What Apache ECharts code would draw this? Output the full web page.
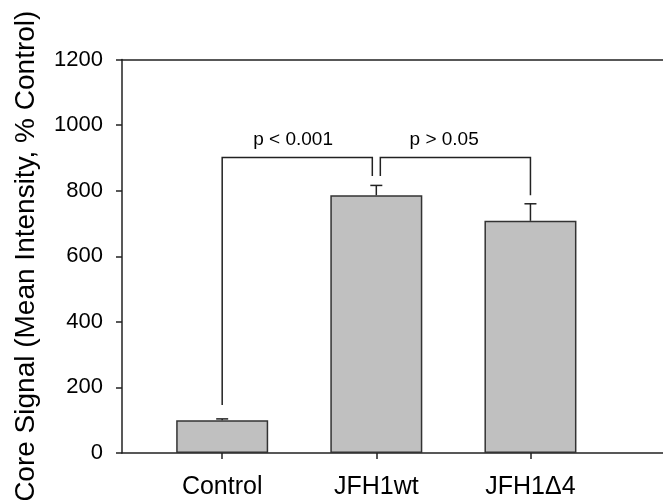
<!DOCTYPE html>
<html lang="en">
<head>
    <meta charset="UTF-8">
    <title>Core Signal</title>
    <script src="https://cdn.jsdelivr.net/npm/echarts@6/dist/echarts.min.js"></script>
    <style>
        body { margin: 0; padding: 0; background: #fff; }
        #box { width: 663px; height: 500px; }
    </style>
</head>
<body>
<div id="box"></div>
<script>
    // categories and values
    var categories = ['Control', 'JFH1wt', 'JFH1\u03944'];
    var means = [100, 786, 708];
    var errors = [4, 30, 52];
    var yTicks = [0, 200, 400, 600, 800, 1000, 1200];

    // significance brackets: [from, to, top, leftLegEnd, rightLegEnd]
    var brackets = [
        [0, 0.974, 901, 146, 845],
        [1.026, 2, 901, 845, 786]
    ];
    var pLabels = ['p < 0.001', 'p > 0.05'];
    var pLabelPos = [[0.46, 954], [1.44, 954]];

    var font = "'Liberation Sans', Arial, sans-serif";
    var ink = '#222';

    var myChart = echarts.init(document.getElementById('box'));

    var option = {
        animation: false,
        grid: { left: 122, top: 59.5, right: 0, bottom: 47, outerBoundsMode: 'none', containLabel: false },
        xAxis: [{
            type: 'value',
            min: -0.65,
            max: 2.86,
            splitLine: { show: false },
            axisLine: { onZero: false, lineStyle: { color: ink, width: 1.5 } },
            axisTick: { show: true, customValues: [0, 1, 2], length: 6, lineStyle: { color: ink, width: 1.5 } },
            axisLabel: {
                customValues: [0, 1, 2],
                formatter: function (v) { return categories[Math.round(v)]; },
                color: '#000', fontSize: 25, fontFamily: font, margin: 22
            }
        }, {
            type: 'value',
            position: 'top',
            min: -0.65,
            max: 2.86,
            splitLine: { show: false },
            axisLine: { show: true, onZero: false, lineStyle: { color: ink, width: 1.5 } },
            axisTick: { show: false },
            axisLabel: { show: false }
        }],
        yAxis: {
            type: 'value',
            min: 0,
            max: 1200,
            interval: 200,
            name: 'Core Signal (Mean Intensity, % Control)',
            nameLocation: 'middle',
            nameGap: 82,
            nameTextStyle: { color: '#000', fontSize: 28, fontFamily: font },
            splitLine: { show: false },
            axisLine: { show: true, onZero: false, lineStyle: { color: ink, width: 1.5 } },
            axisTick: { show: true, length: 6, lineStyle: { color: ink, width: 1.5 } },
            axisLabel: {
                color: '#000', fontSize: 22, fontFamily: font, margin: 19,
                customValues: yTicks,
                formatter: function (v) { return String(v); }
            }
        },
        series: [{
            type: 'bar',
            barWidth: 92,
            data: means.map(function (m, i) { return [i, m]; }),
            itemStyle: { color: '#c0c0c0', borderColor: '#333', borderWidth: 1.5 },
            z: 2
        }, {
            // upper error bars
            type: 'custom',
            data: means.map(function (m, i) { return [i, m, m + errors[i]]; }),
            renderItem: function (params, api) {
                var p0 = api.coord([api.value(0), api.value(1)]);
                var p1 = api.coord([api.value(0), api.value(2)]);
                var style = { stroke: ink, lineWidth: 1.5 };
                return {
                    type: 'group',
                    children: [
                        { type: 'line', shape: { x1: p0[0], y1: p0[1], x2: p1[0], y2: p1[1] }, style: style },
                        { type: 'line', shape: { x1: p1[0] - 6, y1: p1[1], x2: p1[0] + 6, y2: p1[1] }, style: style }
                    ]
                };
            },
            z: 3
        }, {
            // brackets
            type: 'custom',
            data: brackets,
            renderItem: function (params, api) {
                var a = api.coord([api.value(0), api.value(2)]);
                var b = api.coord([api.value(1), api.value(2)]);
                var aEnd = api.coord([api.value(0), api.value(3)]);
                var bEnd = api.coord([api.value(1), api.value(4)]);
                return {
                    type: 'polyline',
                    shape: { points: [[aEnd[0], aEnd[1]], a, b, [bEnd[0], bEnd[1]]] },
                    style: { stroke: ink, lineWidth: 1.5, fill: null }
                };
            },
            z: 3
        }, {
            // p-value labels
            type: 'custom',
            data: pLabelPos.map(function (p, i) { return [p[0], p[1], i]; }),
            renderItem: function (params, api) {
                var c = api.coord([api.value(0), api.value(1)]);
                return {
                    type: 'text',
                    x: c[0], y: c[1],
                    style: {
                        text: pLabels[api.value(2)],
                        fill: '#000',
                        font: '19px ' + font,
                        textAlign: 'center',
                        textVerticalAlign: 'middle'
                    }
                };
            },
            z: 4
        }]
    };

    myChart.setOption(option);
</script>
</body>
</html>
